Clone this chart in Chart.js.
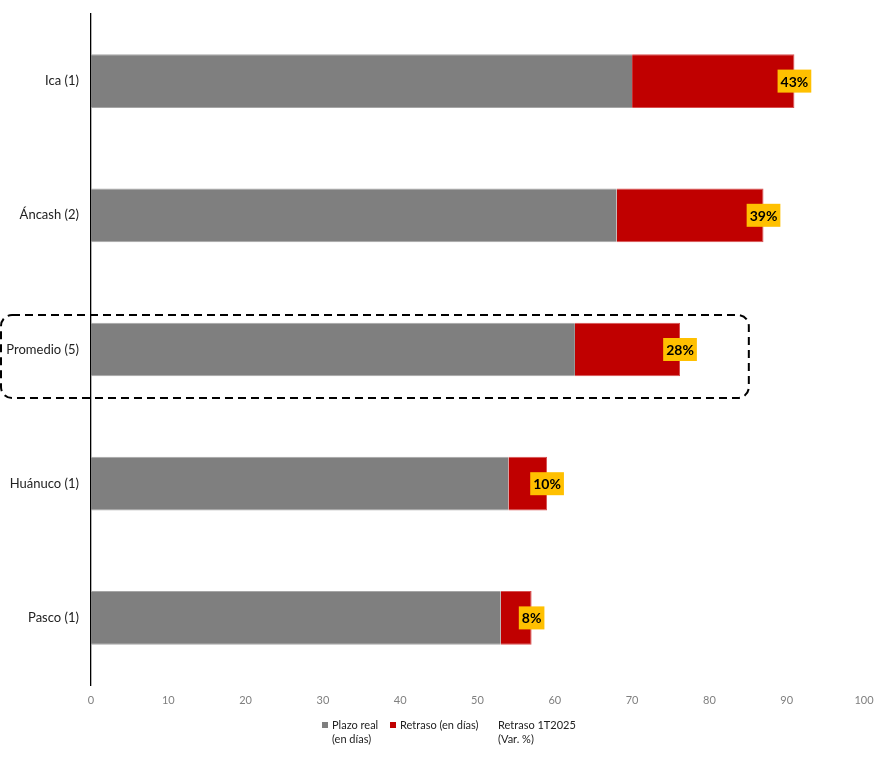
<!DOCTYPE html>
<html>
<head>
<meta charset="utf-8">
<script src="https://cdn.jsdelivr.net/npm/chart.js@4.4.1/dist/chart.umd.min.js"></script>
<style>
  html, body { margin: 0; padding: 0; background: #ffffff; }
  #wrap { width: 886px; height: 757px; position: relative; }
</style>
</head>
<body>
<div id="wrap"><canvas id="c"></canvas></div>
<script>
const categories = ['Ica (1)', 'Áncash (2)', 'Promedio (5)', 'Huánuco (1)', 'Pasco (1)'];
const plazoReal = [70, 68, 62.6, 54, 53];
const retrasoDias = [21, 19, 13.6, 5, 4];
const retrasoVarPct = [43, 39, 28, 10, 8];
const xTicks = [0, 10, 20, 30, 40, 50, 60, 70, 80, 90, 100];
const seriesNames = [['Plazo real', '(en días)'], ['Retraso (en días)'], ['Retraso 1T2025', '(Var. %)']];
const highlightCategory = 'Promedio (5)';
const highlightEndValue = 85.1;

const FONT = 'Lato, "Noto Sans", sans-serif';

const labelPlugin = {
  id: 'pctLabels',
  afterDatasetsDraw(chart) {
    const ctx = chart.ctx;
    const meta = chart.getDatasetMeta(1);
    ctx.save();
    ctx.font = 'bold 14px ' + FONT;
    ctx.textAlign = 'center';
    ctx.textBaseline = 'middle';
    meta.data.forEach((bar, i) => {
      const txt = retrasoVarPct[i] + '%';
      const w = ctx.measureText(txt).width + 6;
      const h = 23;
      ctx.fillStyle = '#FFC000';
      ctx.fillRect(bar.x - w / 2, bar.y - h / 2, w, h);
      ctx.fillStyle = '#000000';
      ctx.fillText(txt, bar.x, bar.y + 1);
    });
    ctx.restore();
  }
};

const boxPlugin = {
  id: 'highlightBox',
  afterDraw(chart) {
    const ctx = chart.ctx;
    const ys = chart.scales.y, xs = chart.scales.x;
    const idx = categories.indexOf(highlightCategory);
    const cy = ys.getPixelForValue(idx) + 7;
    const half = 41.5;
    const left = 1, right = xs.getPixelForValue(highlightEndValue);
    const top = cy - half, bottom = cy + half;
    ctx.save();
    ctx.strokeStyle = '#000000';
    ctx.lineWidth = 2;
    ctx.setLineDash([8, 5]);
    ctx.beginPath();
    ctx.roundRect(left, top, right - left, bottom - top, 11);
    ctx.stroke();
    ctx.restore();
  }
};

const legendPlugin = {
  id: 'customLegend',
  afterDraw(chart) {
    const ctx = chart.ctx;
    const colors = ['#7F7F7F', '#C00000', null];
    const xs = [322, 390, 498];
    const y0 = 725;
    ctx.save();
    ctx.font = '11px ' + FONT;
    ctx.textBaseline = 'middle';
    ctx.textAlign = 'left';
    seriesNames.forEach((lines, k) => {
      let tx = xs[k];
      if (colors[k]) {
        ctx.fillStyle = colors[k];
        ctx.fillRect(xs[k], y0 - 3, 6, 6);
        tx = xs[k] + 10;
      }
      ctx.fillStyle = '#222222';
      lines.forEach((ln, j) => ctx.fillText(ln, tx, y0 + j * 14));
    });
    ctx.restore();
  }
};

new Chart(document.getElementById('c'), {
  type: 'bar',
  data: {
    labels: categories,
    datasets: [
      {
        label: seriesNames[0].join(' '),
        data: plazoReal,
        backgroundColor: '#7F7F7F',
        borderColor: '#A6A6A6',
        borderWidth: { top: 1, bottom: 1, left: 0, right: 0 },
        barPercentage: 0.4,
        categoryPercentage: 1
      },
      {
        label: seriesNames[1].join(' '),
        data: retrasoDias,
        backgroundColor: '#C00000',
        borderColor: '#D85050',
        borderWidth: 1,
        barPercentage: 0.4,
        categoryPercentage: 1
      }
    ]
  },
  options: {
    indexAxis: 'y',
    responsive: true,
    maintainAspectRatio: false,
    animation: false,
    layout: { padding: { top: 14, right: 22, left: 0, bottom: 0 } },
    plugins: {
      legend: { display: false },
      tooltip: { enabled: false }
    },
    scales: {
      x: {
        stacked: true,
        min: 0, max: 100,
        afterBuildTicks(scale) { scale.ticks = xTicks.map(v => ({ value: v })); },
        afterFit(scale) { scale.height = 72; },
        grid: { display: false, drawTicks: false },
        border: { display: false },
        ticks: { color: '#7F7F7F', font: { family: FONT, size: 11 }, padding: 9, maxRotation: 0 }
      },
      y: {
        stacked: true,
        afterFit(scale) { scale.width = 91; scale.paddingTop = 0; scale.paddingBottom = 0; },
        grid: { display: false, drawTicks: false },
        border: { display: true, color: '#000000', width: 1.3 },
        ticks: { color: '#222222', font: { family: FONT, size: 13 }, padding: 12 }
      }
    }
  },
  plugins: [labelPlugin, boxPlugin, legendPlugin]
});
</script>
</body>
</html>
